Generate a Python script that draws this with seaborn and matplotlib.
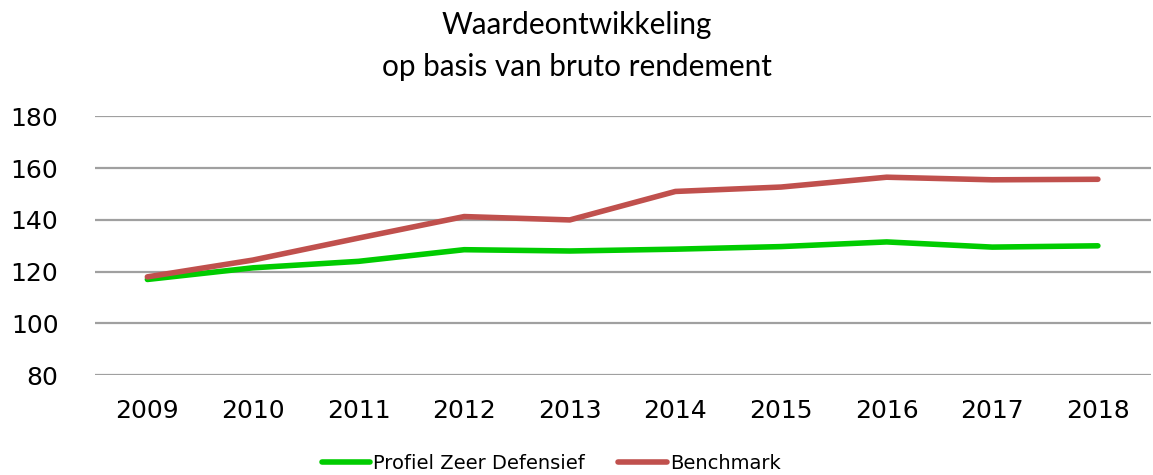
import pandas as pd
import matplotlib.pyplot as plt
import seaborn as sns

years = [2009, 2010, 2011, 2012, 2013, 2014, 2015, 2016, 2017, 2018]
profiel = [117.0, 121.5, 124.0, 128.5, 128.0, 128.7, 129.7, 131.5, 129.5, 130.0]
benchmark = [118.0, 124.5, 133.0, 141.3, 140.0, 151.0, 152.7, 156.5, 155.5, 155.7]
series_names = ['Profiel Zeer Defensief', 'Benchmark']
colors = ['#00CC00', '#C0504D']

df = pd.DataFrame({
    'jaar': [str(y) for y in years] * 2,
    'waarde': profiel + benchmark,
    'reeks': [series_names[0]] * len(years) + [series_names[1]] * len(years),
})

sns.set_style('white')
plt.rcParams['font.family'] = ['DejaVu Sans']
plt.rcParams['text.color'] = 'black'
plt.rcParams['xtick.color'] = 'black'
plt.rcParams['ytick.color'] = 'black'

fig, ax = plt.subplots(figsize=(11.53, 4.75), dpi=100)
fig.subplots_adjust(left=0.082, right=0.998, top=0.755, bottom=0.21)

sns.lineplot(data=df, x='jaar', y='waarde', hue='reeks', palette=colors,
             linewidth=4, sort=False, ax=ax, solid_capstyle='round')

ax.set_ylim(80, 180)
ax.set_yticks(range(80, 181, 20))
ax.set_xlim(-0.5, len(years) - 0.5)
ax.yaxis.grid(True, color='#A0A0A0', linewidth=1.6)
ax.set_axisbelow(True)
for s in ax.spines.values():
    s.set_visible(False)
ax.tick_params(axis='both', length=0, labelsize=18)
ax.tick_params(axis='x', pad=17)
ax.tick_params(axis='y', pad=26)
ax.set_xlabel('')
ax.set_ylabel('')

# title in two lines, Calibri-like font
fig.text(0.5, 1 - 25 / 475, 'Waardeontwikkeling', ha='center', va='center',
         fontsize=21.4, family=['Lato', 'DejaVu Sans'])
fig.text(0.5, 1 - 67 / 475, 'op basis van bruto rendement', ha='center', va='center',
         fontsize=21.4, family=['Lato', 'DejaVu Sans'])

ax.legend(loc='center', bbox_to_anchor=(0.478, 0.025), bbox_transform=fig.transFigure,
          ncol=2, frameon=False, fontsize=14, handlelength=2.5, handletextpad=0.15,
          columnspacing=1.7)

plt.savefig('out.png', dpi=100)
